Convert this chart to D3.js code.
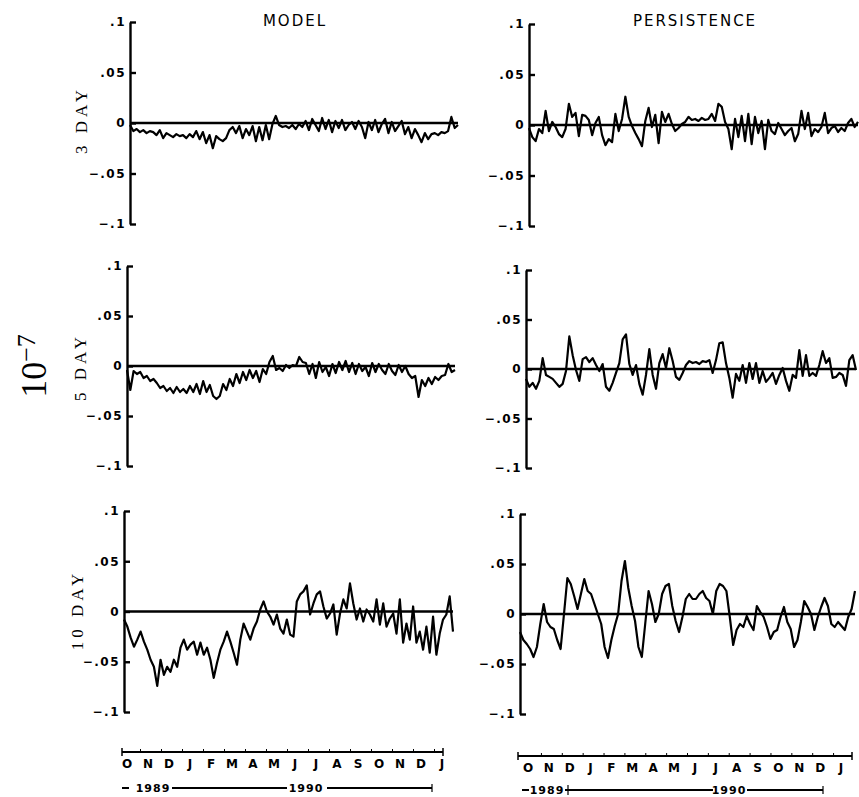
<!DOCTYPE html>
<html>
<head>
<meta charset="utf-8">
<script src="https://cdn.jsdelivr.net/npm/d3@7/dist/d3.min.js"></script>
<style>
body { margin: 0; background: #fff; }
svg { display: block; }
.yaxis text { font-family: "DejaVu Sans", sans-serif; font-weight: bold; font-size: 12px; letter-spacing: 1.5px; fill: #000; }
.yaxis path, .yaxis line { stroke: #000; stroke-width: 2.4; }
.mono { font-family: "DejaVu Sans", sans-serif; font-weight: bold; fill: #000; }
.serif { font-family: "Liberation Serif", serif; fill: #000; }
</style>
</head>
<body>
<div></div>
<script>
// forecast error series, units of 10^-7, Oct 1989 - Jan 1991
var months = ['O','N','D','J','F','M','A','M','J','J','A','S','O','N','D','J'];
var years = ['1989', '1990'];
var yTicks = [-.1, -.05, 0, .05, .1];
var yTickLabels = ['\u2212.1', '\u2212.05', '0', '.05', '.1'];
var columnTitles = ['MODEL', 'PERSISTENCE'];
var rowTitles = ['3 DAY', '5 DAY', '10 DAY'];

var model3 = [-.002,-.008,-.006,-.009,-.007,-.010,-.008,-.009,-.012,-.007,
  -.015,-.010,-.012,-.014,-.011,-.013,-.012,-.015,-.011,-.014,
  -.008,-.016,-.009,-.020,-.012,-.025,-.013,-.016,-.018,-.015,
  -.007,-.004,-.010,-.003,-.015,-.006,-.012,-.003,-.018,-.004,
  -.017,-.002,-.016,-.001,.007,-.002,-.004,-.003,-.005,-.002,
  -.006,-.001,-.004,.002,-.007,.004,-.002,-.008,.005,-.006,
  .003,-.009,.002,-.005,.003,-.007,-.002,.001,-.006,.002,
  -.004,-.015,.001,-.007,.003,-.009,-.001,.004,-.010,.001,
  -.008,-.003,.002,-.011,-.004,-.015,-.006,-.012,-.019,-.010,
  -.016,-.011,-.010,-.012,-.009,-.010,-.008,.006,-.005,-.002];

var pers3 = [-.003,-.012,-.016,-.004,-.008,.014,-.006,.003,-.002,-.009,
  -.012,-.004,.021,.008,.012,-.011,.010,.009,.005,-.010,
  .002,.008,-.010,-.020,-.014,-.017,.011,-.006,.006,.028,
  .008,-.001,-.008,-.014,-.021,.004,.017,-.002,.010,-.018,
  .013,.003,.011,.001,-.006,-.003,.001,.003,.008,.005,
  .006,.004,.007,.005,.006,.011,.004,.021,.018,.003,
  -.004,-.024,.006,-.012,.009,-.016,.011,-.019,.008,-.008,
  .004,-.024,.005,-.006,-.009,.002,-.004,-.010,-.006,-.003,
  -.016,-.009,.014,-.004,.012,-.011,-.004,-.007,-.002,.012,
  -.008,-.003,-.001,-.007,-.003,-.006,.002,.006,-.002,.003];

var model5 = [-.004,-.024,-.005,-.008,-.006,-.012,-.010,-.015,-.013,-.017,
  -.022,-.020,-.025,-.022,-.027,-.021,-.026,-.023,-.027,-.020,
  -.026,-.018,-.028,-.015,-.026,-.019,-.030,-.033,-.030,-.018,
  -.024,-.013,-.020,-.008,-.017,-.006,-.014,-.004,-.012,-.005,
  -.016,-.003,-.008,.004,.010,-.004,-.002,-.005,.001,-.002,
  .001,.000,.009,.004,.003,-.008,.002,-.012,.004,-.006,
  -.001,-.010,.002,-.007,.004,-.004,.005,-.006,.003,-.008,
  .002,-.005,-.001,-.010,.003,-.006,.002,-.004,-.008,.002,
  -.005,-.009,.001,-.006,.000,-.008,-.012,-.010,-.031,-.014,
  -.020,-.012,-.018,-.011,-.014,-.010,-.009,.002,-.006,-.004];

var pers5 = [-.010,-.018,-.014,-.020,-.012,.011,-.006,-.008,-.010,-.014,
  -.018,-.015,-.002,.033,.014,-.001,-.012,.010,.012,.007,
  .011,.004,-.002,.005,-.018,-.022,-.014,-.004,.006,.030,
  .035,.005,-.006,.004,-.015,-.026,-.006,.020,-.006,-.020,
  .006,.015,.001,.021,.008,-.008,-.011,-.004,.004,.008,
  .006,.007,.005,.008,.007,.009,-.004,.009,.026,.027,
  .006,-.009,-.029,-.005,-.012,.004,-.014,.006,-.010,.006,
  -.014,-.002,-.013,-.009,-.004,-.015,-.006,.001,-.012,-.022,
  -.006,-.009,.019,-.007,.014,-.007,-.004,-.007,.004,.018,
  .006,.011,-.009,-.008,-.004,-.006,-.017,.009,.014,-.001];

var model10 = [-.008,-.015,-.026,-.035,-.028,-.020,-.030,-.038,-.048,-.055,
  -.074,-.048,-.063,-.055,-.060,-.048,-.055,-.036,-.028,-.038,
  -.033,-.030,-.043,-.031,-.043,-.036,-.048,-.066,-.051,-.038,
  -.030,-.020,-.030,-.041,-.053,-.028,-.012,-.020,-.028,-.017,
  -.010,.002,.010,.000,-.005,-.013,-.003,-.017,-.022,-.008,
  -.023,-.025,.010,.017,.020,.026,-.003,.008,.017,.020,
  .005,-.007,-.002,.007,-.023,-.002,.012,.003,.028,.008,
  -.008,.003,-.010,.002,-.003,-.010,.012,-.013,.008,-.015,
  -.007,-.002,-.022,.012,-.031,-.012,-.028,.005,-.031,-.020,
  -.038,-.015,-.041,-.005,-.043,-.022,-.008,-.003,.015,-.020];

var pers10 = [-.018,-.026,-.030,-.035,-.043,-.033,-.010,.010,-.008,-.013,
  -.015,-.026,-.035,.000,.036,.030,.018,.005,.020,.035,
  .023,.020,.010,.000,-.010,-.033,-.044,-.026,-.012,.000,
  .033,.053,.026,.008,-.007,-.033,-.043,-.010,.023,.010,
  -.008,.000,.020,.028,.030,.008,-.007,-.018,-.003,.015,
  .020,.015,.015,.020,.023,.016,.013,.000,.023,.030,
  .028,.023,-.003,-.031,-.016,-.010,-.013,-.002,-.010,-.016,
  .008,.002,-.003,-.013,-.025,-.018,-.016,-.003,.007,-.008,
  -.015,-.033,-.026,-.008,.013,.007,.000,-.016,-.003,.007,
  .016,.008,-.010,-.013,-.008,-.012,-.016,-.003,.005,.023];

var W = 859, H = 797;

// layout of the six panels (axis x, data end x, y of +.1 and -.1)
var panels = [
  { series: model3,  x0: 130, x1: 458, top: 22,  bottom: 224 },
  { series: pers3,   x0: 529, x1: 858, top: 24,  bottom: 226 },
  { series: model5,  x0: 127, x1: 455, top: 266, bottom: 466 },
  { series: pers5,   x0: 526, x1: 856, top: 270, bottom: 468 },
  { series: model10, x0: 124, x1: 453, top: 511, bottom: 712 },
  { series: pers10,  x0: 520, x1: 855, top: 514, bottom: 714 }
];

var svg = d3.select('div').append('svg')
  .attr('width', W)
  .attr('height', H)
  .style('background-color', '#fff');

panels.forEach(function(p) {
  var x = d3.scaleLinear().domain([0, p.series.length - 1]).range([p.x0, p.x1]);
  var y = d3.scaleLinear().domain([-.1, .1]).range([p.bottom, p.top]);

  svg.append('g')
    .attr('class', 'yaxis')
    .attr('transform', 'translate(' + p.x0 + ',0)')
    .call(d3.axisLeft(y)
      .tickValues(yTicks)
      .tickFormat(function(d, i) { return yTickLabels[i]; })
      .tickSizeInner(-6)
      .tickSizeOuter(0)
      .tickPadding(4))
    .call(function(g) { g.select('.domain').attr('fill', 'none'); });

  // zero line
  svg.append('line')
    .attr('x1', p.x0).attr('x2', p.x1)
    .attr('y1', y(0)).attr('y2', y(0))
    .attr('stroke', '#000')
    .attr('stroke-width', 2.6);

  var line = d3.line()
    .x(function(d, i) { return x(i); })
    .y(function(d) { return y(d); });

  svg.append('path')
    .datum(p.series)
    .attr('d', line)
    .attr('fill', 'none')
    .attr('stroke', '#000')
    .attr('stroke-width', 2.2)
    .attr('stroke-linejoin', 'round');
});

// column titles
svg.selectAll('.coltitle')
  .data(columnTitles)
  .enter().append('text')
  .attr('class', 'mono')
  .attr('x', function(d, i) { return [295, 695][i]; })
  .attr('y', 26)
  .attr('text-anchor', 'middle')
  .style('font-size', '15px')
  .style('font-weight', 'normal')
  .style('letter-spacing', '2px')
  .text(function(d) { return d; });

// row titles
svg.selectAll('.rowtitle')
  .data(rowTitles)
  .enter().append('text')
  .attr('class', 'serif')
  .attr('transform', function(d, i) { return 'translate(' + [87, 86, 83][i] + ',' + [120, 367, 610][i] + ') rotate(-90)'; })
  .attr('text-anchor', 'middle')
  .style('font-size', '17px')
  .style('letter-spacing', '4px')
  .text(function(d) { return d; });

// 10^-7 unit label
var unit = svg.append('text')
  .attr('class', 'serif')
  .attr('transform', 'translate(46,366) rotate(-90)')
  .attr('text-anchor', 'middle')
  .style('font-size', '36px');
unit.append('tspan').text('10');
unit.append('tspan').attr('dy', -11).style('font-size', '26px').text('\u22127');

// month axes under each column
var monthAxes = [
  { a: 122, b: 443, l0: 127, l1: 442, y: 752 },
  { a: 518, b: 852, l0: 528, l1: 841, y: 756 }
];

monthAxes.forEach(function(m) {
  var xm = d3.scalePoint().domain(d3.range(months.length)).range([m.l0, m.l1]);
  var g = svg.append('g');
  g.append('line')
    .attr('x1', m.a).attr('x2', m.b).attr('y1', m.y).attr('y2', m.y)
    .attr('stroke', '#000').attr('stroke-width', 2);
  g.selectAll('.end')
    .data([m.a, m.b])
    .enter().append('line')
    .attr('x1', function(d) { return d; }).attr('x2', function(d) { return d; })
    .attr('y1', m.y - 4).attr('y2', m.y + 4)
    .attr('stroke', '#000').attr('stroke-width', 1.5);
  g.selectAll('.mt')
    .data(d3.range(1, months.length))
    .enter().append('line')
    .attr('x1', function(d) { return (xm(d) + xm(d - 1)) / 2 + 3; })
    .attr('x2', function(d) { return (xm(d) + xm(d - 1)) / 2 + 3; })
    .attr('y1', m.y - 3).attr('y2', m.y)
    .attr('stroke', '#000').attr('stroke-width', 1);
  g.selectAll('.mlab')
    .data(months)
    .enter().append('text')
    .attr('class', 'mono')
    .attr('x', function(d, i) { return xm(i); })
    .attr('y', m.y + 16)
    .attr('text-anchor', 'middle')
    .style('font-size', '12px')
    .text(function(d) { return d; });
});

// year rows
var yearRows = [
  { y: 788, start: 122, t1: 153, l1a: 172, l1b: 287, t2: 306, l2a: 327, l2b: 432, cross: null },
  { y: 790, start: 522, t1: 547, l1a: 565, l1b: 713, t2: 729, l2a: 747, l2b: 823, cross: 568 }
];

yearRows.forEach(function(r) {
  var g = svg.append('g');
  g.append('line').attr('x1', r.start).attr('x2', r.start + 7)
    .attr('y1', r.y).attr('y2', r.y).attr('stroke', '#000').attr('stroke-width', 2);
  g.selectAll('text')
    .data(years)
    .enter().append('text')
    .attr('class', 'mono')
    .attr('x', function(d, i) { return i ? r.t2 : r.t1; })
    .attr('y', r.y + 4)
    .attr('text-anchor', 'middle')
    .style('font-size', '11px')
    .style('letter-spacing', '1px')
    .text(function(d) { return d; });
  g.selectAll('.yl')
    .data([[r.l1a, r.l1b], [r.l2a, r.l2b]])
    .enter().append('line')
    .attr('x1', function(d) { return d[0]; }).attr('x2', function(d) { return d[1]; })
    .attr('y1', r.y).attr('y2', r.y)
    .attr('stroke', '#000').attr('stroke-width', 1.8);
  g.append('line').attr('x1', r.l2b).attr('x2', r.l2b)
    .attr('y1', r.y - 4).attr('y2', r.y + 4).attr('stroke', '#000').attr('stroke-width', 1.2);
  if (r.cross) {
    g.append('line').attr('x1', r.cross).attr('x2', r.cross)
      .attr('y1', r.y - 5).attr('y2', r.y + 5).attr('stroke', '#000').attr('stroke-width', 1.2);
  }
});
</script>
</body>
</html>
